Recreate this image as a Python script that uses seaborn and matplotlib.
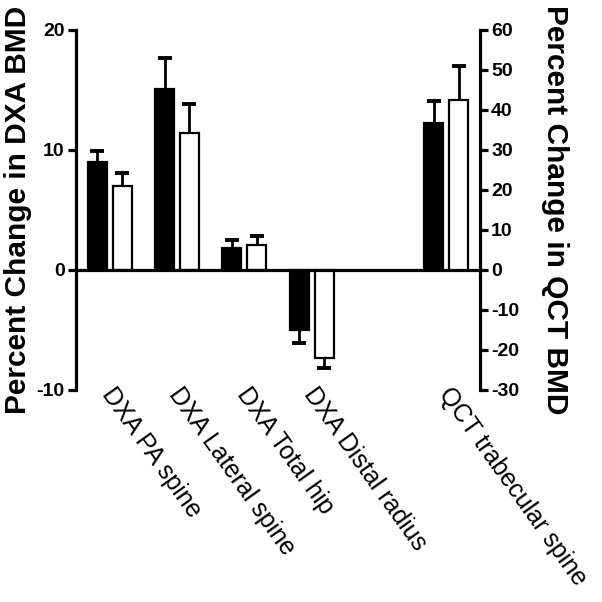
import pandas as pd
import matplotlib
matplotlib.use("Agg")
import matplotlib.pyplot as plt
import matplotlib.transforms as mtransforms
import seaborn as sns

# data (left axis: DXA, right axis: QCT)
sites = ["DXA PA spine", "DXA Lateral spine", "DXA Total hip",
         "DXA Distal radius", " ", "QCT trabecular spine"]
groups = ["Group 1", "Group 2"]

dxa_sites = ["DXA PA spine", "DXA Lateral spine", "DXA Total hip", "DXA Distal radius"]
dxa_g1 = [9.0, 15.1, 1.8, -5.0]
dxa_g2 = [7.0, 11.4, 2.1, -7.3]
dxa_err_g1 = [0.9, 2.6, 0.7, 1.1]
dxa_err_g2 = [1.1, 2.4, 0.7, 0.85]

qct_sites = ["QCT trabecular spine"]
qct_g1 = [36.8]
qct_g2 = [42.5]
qct_err_g1 = [5.5]
qct_err_g2 = [8.5]

sns.set_style("white")
plt.rcParams["font.family"] = ["Liberation Sans", "DejaVu Sans"]
plt.rcParams["axes.unicode_minus"] = False
for key in ["axes.edgecolor", "xtick.color", "ytick.color", "text.color", "axes.labelcolor"]:
    plt.rcParams[key] = "black"

dxa = pd.DataFrame({
    "site": dxa_sites * 2,
    "group": [groups[0]] * 4 + [groups[1]] * 4,
    "change": dxa_g1 + dxa_g2,
    "err": dxa_err_g1 + dxa_err_g2,
})
qct = pd.DataFrame({
    "site": qct_sites * 2,
    "group": groups,
    "change": qct_g1 + qct_g2,
    "err": qct_err_g1 + qct_err_g2,
})

fig = plt.figure(figsize=(6.02, 6.02), dpi=100)
ax = fig.add_axes([0.1262, 0.3522, 0.6711, 0.598])
ax2 = ax.twinx()

palette = {groups[0]: "black", groups[1]: "white"}
bar_kw = dict(x="site", y="change", hue="group", order=sites, hue_order=groups,
              palette=palette, edgecolor="black", linewidth=1.6,
              width=0.74, gap=0.24, errorbar=None, legend=False)

sns.barplot(data=dxa, ax=ax, **bar_kw)
sns.barplot(data=qct, ax=ax2, **bar_kw)


def add_errors(axis, df):
    # one-sided error bars, pointing away from zero
    for container, g in zip(axis.containers, groups):
        sub = df[df["group"] == g].set_index("site")
        for bar in container:
            x = bar.get_x() + bar.get_width() / 2
            site = sites[int(round(x))]
            if site not in sub.index:
                continue
            val = sub.loc[site, "change"]
            e = sub.loc[site, "err"]
            yerr = [[0], [e]] if val >= 0 else [[e], [0]]
            _, caps, _ = axis.errorbar(x, val, yerr=yerr, fmt="none", ecolor="black",
                                       elinewidth=2, capsize=5, capthick=2.8, zorder=1)
            caps[0 if val >= 0 else 1].set_visible(False)


add_errors(ax, dxa)
add_errors(ax2, qct)

ax.axhline(0, color="black", lw=2.3, zorder=5)

ax.set_ylim(-10, 20)
ax.set_yticks([-10, 0, 10, 20])
ax2.set_ylim(-30, 60)
ax2.set_yticks(range(-30, 61, 10))
ax.set_xlim(-0.5, 5.5)
ax2.set_xlim(-0.5, 5.5)

for s in ["top", "right", "bottom"]:
    ax.spines[s].set_visible(False)
for s in ["top", "left", "bottom"]:
    ax2.spines[s].set_visible(False)
ax.spines["left"].set_linewidth(2.3)
ax2.spines["right"].set_linewidth(2.3)

ax.tick_params(axis="y", left=True, length=6, width=2.3, pad=2, labelsize=14)
ax2.tick_params(axis="y", right=True, length=6, width=2.3, pad=2, labelsize=14)
for lab in ax.get_yticklabels() + ax2.get_yticklabels():
    lab.set_fontweight("bold")

ax.set_xlabel("")
ax2.set_xlabel("")
ax2.tick_params(axis="x", bottom=False, labelbottom=False)
ax.tick_params(axis="x", length=0, pad=0)
ax.set_xticks(range(len(sites)))
ax.set_xticklabels(sites, rotation=-54.5, ha="left", va="top",
                   rotation_mode="anchor", fontsize=18)
shift = mtransforms.ScaledTranslation(0.07, 0.07, fig.dpi_scale_trans)
for lab in ax.get_xticklabels():
    lab.set_transform(lab.get_transform() + shift)

ax.set_ylabel("Percent Change in DXA BMD", fontsize=21.5, fontweight="bold")
ax.yaxis.set_label_coords(-0.11, 0.5)
ax2.set_ylabel("Percent Change in QCT BMD", fontsize=21.5, fontweight="bold",
               rotation=270, va="bottom")
ax2.yaxis.set_label_coords(1.152, 0.5)

ax.patch.set_visible(False)
fig.savefig("out.png", dpi=100)
print("saved out.png")
